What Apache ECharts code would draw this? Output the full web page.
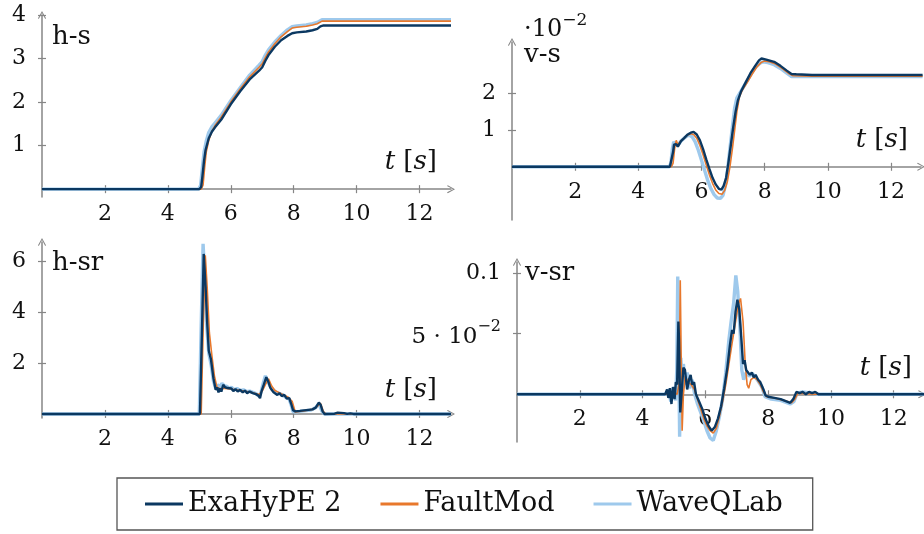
<!DOCTYPE html>
<html>
<head>
<meta charset="utf-8">
<script src="https://cdn.jsdelivr.net/npm/echarts@6/dist/echarts.min.js"></script>
<style>
  html, body { margin: 0; padding: 0; background: #fff; }
  #chart { width: 924px; height: 534px; }
</style>
</head>
<body>
<div id="chart"></div>
<script>
// Time axis ticks shared by all four panels
const timeTicks = [2, 4, 6, 8, 10, 12];

// h-s : horizontal slip [m]
const hsExa = [[0,0],[5.0,0],[5.06,0.05],[5.1,0.3],[5.15,0.65],[5.2,0.9],[5.3,1.17],[5.4,1.32],[5.5,1.42],[5.7,1.6],[6.0,1.95],[6.3,2.25],[6.6,2.52],[6.9,2.72],[7.0,2.8],[7.1,2.95],[7.2,3.08],[7.4,3.27],[7.6,3.42],[7.8,3.52],[7.95,3.58],[8.1,3.6],[8.4,3.62],[8.6,3.65],[8.75,3.68],[8.85,3.74],[8.95,3.76],[13,3.76]];
const hsFault = [[0,0],[5.06,0],[5.12,0.1],[5.17,0.5],[5.22,0.85],[5.3,1.12],[5.4,1.33],[5.5,1.46],[5.7,1.66],[6.0,2.0],[6.3,2.3],[6.6,2.58],[6.9,2.8],[7.0,2.88],[7.1,3.02],[7.2,3.15],[7.4,3.34],[7.6,3.5],[7.8,3.62],[7.95,3.7],[8.1,3.72],[8.4,3.74],[8.6,3.77],[8.75,3.8],[8.9,3.86],[13,3.86]];
const hsWave = [[0,0],[4.98,0],[5.04,0.08],[5.1,0.5],[5.15,0.85],[5.22,1.1],[5.3,1.3],[5.4,1.43],[5.5,1.52],[5.7,1.7],[6.0,2.03],[6.3,2.33],[6.6,2.62],[6.9,2.85],[7.0,2.93],[7.1,3.08],[7.2,3.2],[7.4,3.38],[7.6,3.53],[7.8,3.66],[7.95,3.73],[8.1,3.75],[8.4,3.77],[8.6,3.8],[8.75,3.83],[8.9,3.89],[13,3.89]];

// v-s : vertical slip [10^-2 m]
const vsExa = [[0,0],[5.0,0],[5.05,0.05],[5.1,0.4],[5.13,0.6],[5.2,0.62],[5.25,0.55],[5.35,0.7],[5.45,0.78],[5.55,0.87],[5.66,0.93],[5.75,0.95],[5.85,0.88],[5.95,0.72],[6.05,0.48],[6.15,0.2],[6.25,-0.06],[6.35,-0.3],[6.45,-0.48],[6.55,-0.6],[6.63,-0.62],[6.7,-0.52],[6.78,-0.3],[6.85,0.1],[6.93,0.6],[7.0,1.05],[7.08,1.5],[7.15,1.8],[7.25,2.05],[7.4,2.3],[7.55,2.55],[7.7,2.75],[7.82,2.9],[7.9,2.95],[8.05,2.92],[8.3,2.86],[8.5,2.75],[8.7,2.62],[8.85,2.53],[9.0,2.52],[9.5,2.5],[13,2.5]];
const vsFault = [[0,0],[5.05,0],[5.1,0.1],[5.15,0.5],[5.2,0.72],[5.25,0.6],[5.35,0.7],[5.45,0.78],[5.55,0.86],[5.66,0.9],[5.75,0.88],[5.85,0.78],[5.95,0.58],[6.05,0.33],[6.15,0.05],[6.25,-0.22],[6.35,-0.45],[6.45,-0.63],[6.55,-0.73],[6.65,-0.75],[6.73,-0.65],[6.82,-0.4],[6.9,0.0],[6.98,0.5],[7.05,1.0],[7.12,1.5],[7.2,1.9],[7.3,2.1],[7.45,2.3],[7.6,2.52],[7.75,2.72],[7.9,2.85],[8.0,2.88],[8.15,2.86],[8.35,2.8],[8.55,2.68],[8.75,2.55],[8.9,2.48],[9.5,2.47],[13,2.47]];
const vsWave = [[0,0],[4.98,0],[5.03,0.1],[5.08,0.5],[5.12,0.68],[5.18,0.62],[5.25,0.58],[5.35,0.7],[5.45,0.78],[5.55,0.84],[5.62,0.86],[5.7,0.82],[5.8,0.68],[5.9,0.45],[6.0,0.18],[6.1,-0.1],[6.2,-0.38],[6.3,-0.6],[6.4,-0.76],[6.5,-0.85],[6.6,-0.86],[6.68,-0.78],[6.76,-0.5],[6.83,-0.05],[6.9,0.5],[6.98,1.1],[7.05,1.6],[7.12,1.88],[7.25,2.06],[7.4,2.28],[7.55,2.5],[7.7,2.7],[7.85,2.82],[7.95,2.86],[8.1,2.84],[8.3,2.78],[8.5,2.68],[8.7,2.55],[8.85,2.46],[9.0,2.46],[9.5,2.46],[13,2.46]];

// h-sr : horizontal slip rate [m/s]
const hsrExa = [[0,0],[5.02,0],[5.08,3.0],[5.14,6.3],[5.2,5.0],[5.25,3.6],[5.3,2.5],[5.37,2.15],[5.45,1.4],[5.52,0.95],[5.57,1.05],[5.61,0.85],[5.66,1.0],[5.7,0.88],[5.76,1.15],[5.82,1.05],[5.9,1.02],[5.96,0.95],[6.02,1.0],[6.08,0.9],[6.15,0.98],[6.22,0.88],[6.3,0.95],[6.38,0.85],[6.45,0.92],[6.52,0.82],[6.6,0.88],[6.7,0.82],[6.8,0.78],[6.88,0.72],[6.93,0.62],[6.98,0.9],[7.05,1.15],[7.13,1.45],[7.2,1.25],[7.25,1.05],[7.3,0.95],[7.36,0.85],[7.42,0.9],[7.48,0.75],[7.55,0.82],[7.62,0.7],[7.7,0.75],[7.78,0.6],[7.86,0.62],[7.92,0.4],[7.98,0.15],[8.05,0.1],[8.2,0.12],[8.4,0.15],[8.6,0.18],[8.7,0.25],[8.8,0.45],[8.86,0.35],[8.92,0.1],[8.98,0],[9.3,0.01],[9.4,0.05],[9.45,0],[9.6,0.03],[9.7,0.0],[9.8,0.02],[9.9,0],[13,0]];
const hsrFault = [[0,0],[5.06,0],[5.12,3.2],[5.19,6.25],[5.25,5.0],[5.32,3.2],[5.4,2.3],[5.48,1.5],[5.56,1.05],[5.65,1.0],[5.8,1.0],[6.0,0.98],[6.3,0.92],[6.6,0.86],[6.9,0.76],[7.0,0.9],[7.1,1.15],[7.2,1.38],[7.3,1.1],[7.4,0.92],[7.6,0.8],[7.8,0.68],[7.95,0.5],[8.05,0.08],[8.3,0.12],[8.6,0.18],[8.75,0.3],[8.85,0.42],[8.95,0.08],[9.02,0],[13,0]];
const hsrWave = [[0,0],[5.0,0],[5.06,3.5],[5.12,6.7],[5.18,5.2],[5.24,3.4],[5.3,2.4],[5.38,1.9],[5.45,1.3],[5.52,1.0],[5.58,1.15],[5.65,1.05],[5.72,1.2],[5.8,1.1],[5.88,1.08],[5.95,1.0],[6.02,1.05],[6.1,0.95],[6.2,1.0],[6.3,0.92],[6.4,0.95],[6.5,0.88],[6.6,0.9],[6.7,0.85],[6.8,0.8],[6.9,0.7],[6.96,0.85],[7.03,1.2],[7.1,1.5],[7.17,1.3],[7.25,1.1],[7.35,0.95],[7.45,0.85],[7.55,0.8],[7.65,0.75],[7.75,0.65],[7.85,0.6],[7.92,0.35],[7.98,0.08],[8.1,0.08],[8.3,0.12],[8.55,0.15],[8.7,0.25],[8.8,0.4],[8.9,0.1],[8.98,0],[13,0]];

// v-sr : vertical slip rate [m/s]
const vsrExa = [[0,0],[4.72,0],[4.78,0.004],[4.82,-0.003],[4.87,0.005],[4.92,-0.008],[4.97,0.006],[5.02,-0.004],[5.06,0.01],[5.1,0.008],[5.14,0.06],[5.16,0.045],[5.2,-0.015],[5.24,0.0],[5.3,0.022],[5.35,0.02],[5.42,0.004],[5.48,0.012],[5.53,0.016],[5.58,0.008],[5.64,0.01],[5.7,0.0],[5.8,-0.006],[5.9,-0.012],[6.0,-0.02],[6.1,-0.026],[6.2,-0.03],[6.3,-0.027],[6.4,-0.02],[6.5,-0.01],[6.6,0.005],[6.7,0.022],[6.78,0.04],[6.85,0.053],[6.9,0.05],[6.96,0.068],[7.02,0.078],[7.08,0.07],[7.14,0.048],[7.2,0.025],[7.25,0.028],[7.3,0.02],[7.36,0.018],[7.42,0.016],[7.48,0.018],[7.54,0.014],[7.6,0.016],[7.68,0.012],[7.75,0.01],[7.85,0.004],[7.92,-0.001],[8.0,-0.002],[8.2,-0.003],[8.4,-0.004],[8.6,-0.006],[8.7,-0.007],[8.8,-0.004],[8.9,0.002],[9.0,0.001],[9.1,0.002],[9.2,0.0],[9.3,0.002],[9.4,0.001],[9.5,0.002],[9.6,0],[13,0]];
const vsrFault = [[0,0],[4.8,0],[4.9,-0.002],[5.0,0.002],[5.1,0.0],[5.17,0.01],[5.2,0.094],[5.23,0.03],[5.26,-0.03],[5.3,0.0],[5.36,0.015],[5.45,0.01],[5.55,0.008],[5.65,0.004],[5.75,-0.004],[5.85,-0.012],[5.95,-0.02],[6.05,-0.026],[6.15,-0.03],[6.25,-0.032],[6.35,-0.028],[6.45,-0.018],[6.55,-0.006],[6.65,0.008],[6.75,0.025],[6.85,0.042],[6.95,0.058],[7.05,0.074],[7.12,0.079],[7.2,0.06],[7.27,0.025],[7.33,0.008],[7.38,0.005],[7.45,0.012],[7.55,0.014],[7.65,0.012],[7.75,0.008],[7.85,0.002],[7.95,-0.002],[8.2,-0.003],[8.5,-0.005],[8.75,-0.007],[8.85,-0.004],[8.95,0.001],[9.5,0],[13,0]];
const vsrWave = [[0,0],[4.75,0],[4.82,0.004],[4.9,-0.006],[4.98,0.006],[5.05,-0.005],[5.09,0.02],[5.12,0.097],[5.15,0.04],[5.18,-0.035],[5.22,0.03],[5.26,0.0],[5.3,0.025],[5.36,0.008],[5.42,0.018],[5.5,0.005],[5.58,0.012],[5.66,0.0],[5.75,-0.008],[5.85,-0.015],[5.95,-0.022],[6.05,-0.03],[6.15,-0.036],[6.25,-0.038],[6.35,-0.03],[6.45,-0.018],[6.55,-0.004],[6.65,0.018],[6.75,0.045],[6.82,0.06],[6.9,0.075],[6.97,0.098],[7.03,0.085],[7.1,0.055],[7.16,0.02],[7.22,0.012],[7.3,0.018],[7.4,0.015],[7.5,0.017],[7.6,0.014],[7.7,0.01],[7.8,0.006],[7.9,-0.002],[8.1,-0.004],[8.4,-0.005],[8.7,-0.008],[8.82,-0.006],[8.92,0.001],[9.1,0.002],[9.4,0.001],[9.6,0],[13,0]];

// y tick values per panel
const hsTicks = [1, 2, 3, 4];
const vsTicks = [1, 2];
const hsrTicks = [2, 4, 6];
const vsrTicks = [0.05, 0.1];

const seriesNames = ['ExaHyPE 2', 'FaultMod', 'WaveQLab'];

const FONT = "'DejaVu Serif', serif";
const AXIS = '#868686';
const COLORS = { 'ExaHyPE 2': '#0b3861', 'FaultMod': '#e8782c', 'WaveQLab': '#9ec9ec' };
const WIDTHS = { 'ExaHyPE 2': 2.4, 'FaultMod': 1.6, 'WaveQLab': 3.4 };
// thin open arrow head, pointing up in symbol space
const ARROW = 'path://M5,0 L10,9 L9,10 L5,2.4 L1,10 L0,9 Z';

const panels = [
  { grid: { left: 42, top: 15, width: 409, height: 182 }, x: [0, 13], y: [-0.18, 4], yTicks: hsTicks,
    data: { 'ExaHyPE 2': hsExa, 'FaultMod': hsFault, 'WaveQLab': hsWave } },
  { grid: { left: 512, top: 42, width: 409, height: 178 }, x: [0, 12.95], y: [-1.45, 3.4], yTicks: vsTicks,
    data: { 'ExaHyPE 2': vsExa, 'FaultMod': vsFault, 'WaveQLab': vsWave } },
  { grid: { left: 42, top: 242, width: 409, height: 176 }, x: [0, 13], y: [-0.16, 6.77], yTicks: hsrTicks,
    data: { 'ExaHyPE 2': hsrExa, 'FaultMod': hsrFault, 'WaveQLab': hsrWave } },
  { grid: { left: 517, top: 262, width: 405, height: 180 }, x: [0, 12.9], y: [-0.0393, 0.109], yTicks: vsrTicks,
    yFormat: v => (Math.abs(v - 0.05) < 1e-9 ? '{m|5 · 10}{s|−2}' : '0.1'),
    data: { 'ExaHyPE 2': vsrExa, 'FaultMod': vsrFault, 'WaveQLab': vsrWave } }
];

const grids = [], xAxes = [], yAxes = [], series = [];
const labelStyle = { fontFamily: FONT, fontSize: 22, color: '#111' };

panels.forEach((p, i) => {
  grids.push(Object.assign({ containLabel: false }, p.grid));
  // the time axis crosses the value axis at zero: shift it up from the grid bottom
  const zeroShift = -p.grid.height * (0 - p.y[0]) / (p.y[1] - p.y[0]);
  const base = { type: 'value', gridIndex: i, splitLine: { show: false } };
  // main x axis: line, arrow, labels, outer half of ticks
  xAxes.push(Object.assign({}, base, {
    min: p.x[0], max: p.x[1], position: 'bottom', offset: zeroShift,
    axisLine: { show: true, onZero: false, symbol: ['none', ARROW], symbolSize: [9, 8],
      lineStyle: { color: AXIS, width: 1.5 } },
    axisTick: { show: true, inside: false, length: 4, customValues: timeTicks, lineStyle: { color: AXIS, width: 1.2 } },
    axisLabel: { show: true, margin: 14, customValues: timeTicks, ...labelStyle }
  }));
  // companion x axis: inner half of ticks
  xAxes.push(Object.assign({}, base, {
    min: p.x[0], max: p.x[1], position: 'bottom', offset: zeroShift,
    axisLine: { show: false, onZero: false },
    axisTick: { show: true, inside: true, length: 4, customValues: timeTicks, lineStyle: { color: AXIS, width: 1.2 } },
    axisLabel: { show: false }
  }));
  yAxes.push(Object.assign({}, base, {
    min: p.y[0], max: p.y[1], position: 'left',
    axisLine: { show: true, onZero: false, symbol: ['none', ARROW], symbolSize: [9, 8],
      lineStyle: { color: AXIS, width: 1.5 } },
    axisTick: { show: true, inside: false, length: 4, customValues: p.yTicks, lineStyle: { color: AXIS, width: 1.2 } },
    axisLabel: Object.assign({ show: true, margin: 16, customValues: p.yTicks, ...labelStyle,
      rich: {
        m: { fontFamily: FONT, fontSize: 23, color: '#111', lineHeight: 30, verticalAlign: 'bottom' },
        s: { fontFamily: FONT, fontSize: 16, color: '#111', lineHeight: 16, verticalAlign: 'top' }
      } }, p.yFormat ? { formatter: p.yFormat } : {})
  }));
  yAxes.push(Object.assign({}, base, {
    min: p.y[0], max: p.y[1], position: 'left',
    axisLine: { show: false, onZero: false },
    axisTick: { show: true, inside: true, length: 4, customValues: p.yTicks, lineStyle: { color: AXIS, width: 1.2 } },
    axisLabel: { show: false }
  }));
  // draw light first so the dark line stays on top
  ['WaveQLab', 'FaultMod', 'ExaHyPE 2'].forEach(name => {
    series.push({
      name, type: 'line', xAxisIndex: 2 * i, yAxisIndex: 2 * i,
      data: p.data[name], symbol: 'none', showSymbol: false, smooth: false,
      lineStyle: { color: COLORS[name], width: WIDTHS[name] },
      itemStyle: { color: COLORS[name] },
      emphasis: { disabled: true }
    });
  });
});

function label(text, x, y, align) {
  return { type: 'text', silent: true,
    style: { text, x, y, align: align || 'left', verticalAlign: 'middle',
      textAlign: align || 'left', textVerticalAlign: 'middle',
      fontFamily: FONT, fontSize: 26, fill: '#111' } };
}
function timeLabel(x, y) {
  return { type: 'text', silent: true,
    style: { text: '{i|t} {n|[}{i|s}{n|]}', x, y, align: 'right', verticalAlign: 'middle',
      textAlign: 'right', textVerticalAlign: 'middle',
      fontFamily: FONT, fontSize: 26, fill: '#111',
      rich: { i: { fontFamily: FONT, fontStyle: 'italic', fontSize: 26, fill: '#111' },
              n: { fontFamily: FONT, fontSize: 26, fill: '#111' } } } };
}

const graphics = [
  label('h-s', 52, 37), label('v-s', 524, 55), label('h-sr', 52, 263), label('v-sr', 525, 273),
  timeLabel(437, 162), timeLabel(908, 140), timeLabel(437, 390), timeLabel(912, 368),
  { type: 'text', silent: true,
    style: { text: '{m|·10}{s|−2}', x: 524, y: 27, align: 'left', verticalAlign: 'middle',
      textAlign: 'left', textVerticalAlign: 'middle',
      rich: { m: { fontFamily: FONT, fontSize: 24, fill: '#111', lineHeight: 30, verticalAlign: 'bottom' },
              s: { fontFamily: FONT, fontSize: 17, fill: '#111', lineHeight: 17, verticalAlign: 'top' } } } }
];

const chart = echarts.init(document.getElementById('chart'), null, { renderer: 'canvas' });
chart.setOption({
  animation: false,
  backgroundColor: '#fff',
  grid: grids,
  xAxis: xAxes,
  yAxis: yAxes,
  series,
  graphic: graphics,
  legend: {
    data: seriesNames,
    left: 117, top: 478,
    orient: 'horizontal',
    padding: [10, 30, 10, 28],
    itemGap: 39,
    icon: 'rect',
    itemWidth: 38, itemHeight: 3,
    borderColor: '#555', borderWidth: 1.3, borderRadius: 0,
    selectedMode: false,
    textStyle: { fontFamily: FONT, fontSize: 27, color: '#111', lineHeight: 32 }
  }
});
</script>
</body>
</html>
